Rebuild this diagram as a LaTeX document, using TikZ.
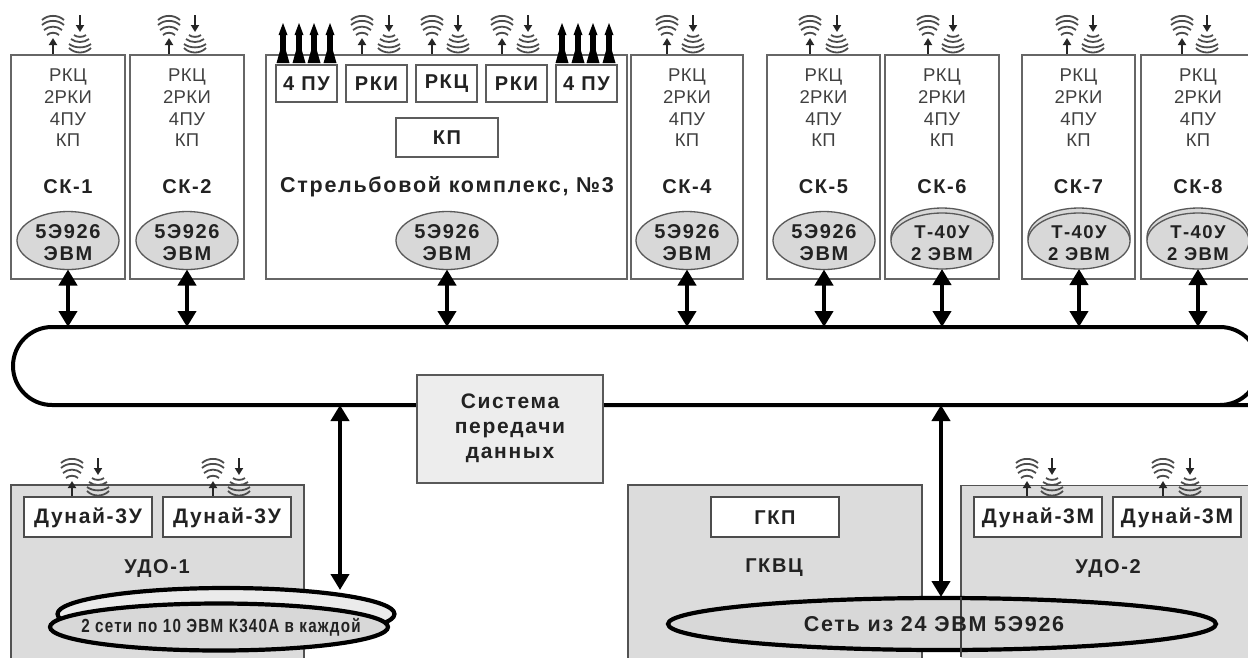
\documentclass[tikz,border=0pt]{standalone}
\usepackage{fontspec}
\setmainfont[LetterSpace=8]{Liberation Sans}
\newfontfamily\plainfam[LetterSpace=2]{Liberation Sans}
\usetikzlibrary{arrows.meta,shapes.geometric}
\definecolor{ink}{HTML}{222222}
\definecolor{edge}{HTML}{666666}
\definecolor{panel}{HTML}{DCDCDC}
\definecolor{oval}{HTML}{D8D8D8}
\tikzset{
  x=1pt,y=-1pt,
  every node/.style={outer sep=0pt,inner sep=0pt,text=ink},
  skbox/.style={draw=edge,line width=1.7pt,fill=white,minimum height=224pt},
  labbox/.style={draw=edge!90!black,line width=1.7pt,fill=white,minimum height=37pt,minimum width=61pt},
  greybox/.style={draw=edge!80!black,line width=1.2pt,fill=panel,minimum height=190pt},
  wbox/.style={draw=black!70,line width=1.4pt,fill=white,minimum height=40pt,minimum width=128pt},
  smalloval/.style={ellipse,draw=black!65,line width=1.3pt,fill=oval,minimum width=102pt,minimum height=58pt},
  bigoval/.style={ellipse,draw=black,line width=4.2pt,fill=oval},
  thin txt/.style={font=\plainfam\fontsize{18.5}{21.6}\selectfont,align=center,text=black!75},
  bold txt/.style={font=\fontsize{20}{21.8}\selectfont\bfseries,align=center},
  wide txt/.style={font=\fontsize{21.5}{22}\selectfont\bfseries,align=center},
  mid txt/.style={font=\fontsize{21}{22}\selectfont\bfseries,align=center},
  link/.style={line width=4.8pt,draw=black,{Triangle[length=16pt,width=18pt]}-{Triangle[length=16pt,width=18pt]}},
  arcline/.style={draw=black!70,line width=1.8pt},
  sender/.pic={
    \draw[arcline] (-11,20) .. controls (-5,14.5) and (5,14.5) .. (11,20);
    \draw[arcline] (-11,25) .. controls (-5,19.5) and (5,19.5) .. (11,25);
    \draw[arcline] (-9,30) .. controls (-4,25.5) and (4,25.5) .. (9,30);
    \draw[arcline] (-6,35) .. controls (-3,32) and (3,32) .. (6,35);
    \draw[line width=1.8pt,black!85,-{Triangle[length=7pt,width=8pt]}] (0,54) -- (0,38);
  },
  receiver/.pic={
    \draw[line width=1.8pt,black!85,-{Triangle[length=7pt,width=8pt]}] (0,15) -- (0,32);
    \draw[arcline] (-6,35) .. controls (-3,37.5) and (3,37.5) .. (6,35);
    \draw[arcline] (-9,39) .. controls (-4,43) and (4,43) .. (9,39);
    \draw[arcline] (-11,44) .. controls (-5,48.5) and (5,48.5) .. (11,44);
    \draw[arcline] (-11,48) .. controls (-5,54) and (5,54) .. (11,48);
  },
  missile/.pic={
    \fill[black] (0,23) -- (4.5,35) -- (2.8,35) -- (2.8,50) -- (6.5,63) -- (-6.5,63) -- (-2.8,50) -- (-2.8,35) -- (-4.5,35) -- cycle;
  },
}
\begin{document}
\begin{tikzpicture}
\clip (0,0) rectangle (1248,657);
\fill[white] (0,0) rectangle (1248,657);

% bus
\draw[line width=4pt,black] (1260,405) -- (604,405) (417,405) -- (52,405)
   arc[start angle=90,end angle=270,radius=39pt,y radius=-39pt] -- (1220,327)
   arc[start angle=90,end angle=-90,radius=39pt,y radius=39pt];
\node[draw=black!65,line width=1.3pt,fill=black!7,minimum width=186pt,minimum height=108pt] (sys) at (510,429) {};
\node[font=\fontsize{21}{25}\selectfont\bfseries,align=center] (systxt) at (510,428) {Система\\передачи\\данных};

% radio icons on the upper row
\foreach \s/\r in {53/80,169/195,362/389,432/458,502/528,667/693,810/837,928/953,1067/1093,1182/1207}{
  \pic at (\s,0) {sender};
  \pic at (\r,0) {receiver};
}

% upper complexes
\foreach \n/\c/\w in {1/68/114,2/187/114,4/687/112,5/823.5/113,6/942/114,7/1078.5/113,8/1198/114}{
  \node[skbox,minimum width=\w pt] (sk\n) at (\c,167) {};
  \node[thin txt,anchor=center] (kit\n) at (\c,108) {РКЦ\\2РКИ\\4ПУ\\КП};
  \node[bold txt] (name\n) at (\c,187) {СК-\n};
}
\node[skbox,minimum width=361pt] (sk3) at (446.5,167) {};
\node[labbox] (pu1) at (306.5,83.5) {};
\node[labbox] (rki1) at (376.5,83.5) {};
\node[labbox] (rkc) at (446.5,83.5) {};
\node[labbox] (rki2) at (516.5,83.5) {};
\node[labbox] (pu2) at (586.5,83.5) {};
\node[bold txt] (t1) at (306.5,84) {4 ПУ};
\node[bold txt] (t2) at (376.5,84) {РКИ};
\node[bold txt] (t3) at (446.5,84) {РКЦ};
\node[bold txt] (t4) at (516.5,84) {РКИ};
\node[bold txt] (t5) at (586.5,84) {4 ПУ};
\node[labbox,minimum width=102pt,minimum height=39pt] (kp) at (447,137.5) {};
\node[bold txt] (kpt) at (447,138) {КП};
\node[wide txt] (name3) at (447,187) {Стрельбовой комплекс, №3};
\foreach \x in {283,299,314,330,562,578,593,609}{ \pic at (\x,0) {missile}; }

% computers
\foreach \n/\c in {1/68,2/187,3/447,4/687,5/824}{
  \node[smalloval] (pc\n) at (\c,240.5) {};
  \node[bold txt] (pct\n) at (\c,243) {5Э926\\ЭВМ};
}
\foreach \n/\c in {6/942,7/1079,8/1198}{
  \node[smalloval,minimum height=58pt] (back\n) at (\c,237) {};
  \node[smalloval,minimum height=56pt] (pc\n) at (\c,241) {};
  \node[font=\fontsize{18.5}{21.8}\selectfont\bfseries,align=center] (pct\n) at (\c,243) {Т-40У\\2 ЭВМ};
}
\foreach \n/\c in {1/68,2/187,3/447,4/687,5/824,6/942,7/1079,8/1198}{
  \coordinate (bus\n) at (\c,327);
  \draw[link] (pc\n.south) -- (bus\n);
}

% lower blocks
\node[greybox,minimum width=293pt] (udo1) at (157.5,580) {};
\node[greybox,minimum width=294pt] (gkvc) at (775,580) {};
\fill[panel] (961,486) rectangle (1260,670);
\draw[edge!80!black,line width=1.2pt] (1260,485.5) -- (961,485.5) -- (961,600);

% lower radio icons
\begin{scope}[yshift=-443pt]
\foreach \s/\r in {72/98,213/239,1027/1052,1163/1190}{
  \pic at (\s,0) {sender};
  \pic at (\r,0) {receiver};
}
\end{scope}

\node[wbox] (d1) at (88,517) {};
\node[wbox] (d2) at (227,517) {};
\node[wbox] (gkp) at (775,517) {};
\node[wbox] (d3) at (1038,517) {};
\node[wbox] (d4) at (1177,517) {};
\node[mid txt] (dt1) at (88,518) {Дунай-3У};
\node[mid txt] (dt2) at (227,518) {Дунай-3У};
\node[bold txt] (gkpt) at (775,518) {ГКП};
\node[mid txt] (dt3) at (1038,518) {Дунай-3М};
\node[mid txt] (dt4) at (1177,518) {Дунай-3М};
\node[bold txt] (un1) at (157,568) {УДО-1};
\node[bold txt] (un2) at (774,568) {ГКВЦ};
\node[bold txt] (un3) at (1108,568) {УДО-2};

% big ovals
\node[bigoval,fill=black!8,minimum width=337pt,minimum height=52pt] (net1b) at (226,614) {};
\node[bigoval,minimum width=338pt,minimum height=47pt] (net1) at (219,627) {};
\node[font=\fontsize{19}{20}\selectfont\bfseries] (net1t) at (221,627) {\scalebox{0.8}[1]{2 сети по 10 ЭВМ К340А в каждой}};
\node[bigoval,minimum width=548pt,minimum height=52pt] (net2) at (942,624) {};
\draw[black!75,line width=1.2pt] (961,597) -- (961,657);
\node[wide txt] (net2t) at (934,624) {Сеть из 24 ЭВМ 5Э926};

\coordinate (busA) at (340,405);
\coordinate (busB) at (941,405);
\coordinate (netA) at (340,590);
\coordinate (netB) at (941,597);
\draw[link] (busA) -- (netA);
\draw[link] (busB) -- (netB);
\end{tikzpicture}
\end{document}
